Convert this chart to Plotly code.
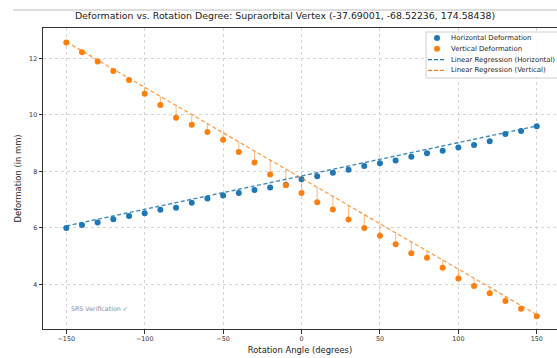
import numpy as np
import plotly.graph_objects as go

# ---- data ----
angles = list(range(-150, 151, 10))
horizontal = [6.00, 6.10, 6.19, 6.31, 6.42, 6.52, 6.64, 6.71, 6.89, 7.04,
              7.15, 7.24, 7.34, 7.43, 7.53, 7.72, 7.83, 7.95, 8.06, 8.19,
              8.29, 8.39, 8.52, 8.64, 8.73, 8.85, 8.94, 9.07, 9.33, 9.43, 9.60]
vertical = [12.57, 12.22, 11.89, 11.56, 11.24, 10.75, 10.35, 9.90, 9.65, 9.40,
            9.12, 8.69, 8.32, 7.89, 7.51, 7.24, 6.91, 6.65, 6.30, 6.00,
            5.72, 5.42, 5.10, 4.94, 4.59, 4.21, 3.94, 3.69, 3.41, 3.14, 2.87]
# regression lines as drawn in the reference (slope per degree, value at 0°)
horizontal_fit = [0.01180, 7.84]
vertical_fit = [-0.03220, 7.76]
x_ticks = [-150, -100, -50, 0, 50, 100, 150]
y_ticks = [4, 6, 8, 10, 12]

title_text = "Deformation vs. Rotation Degree: Supraorbital Vertex (-37.69001, -68.52236, 174.58438)"
legend_labels = ["Horizontal Deformation", "Vertical Deformation",
                 "Linear Regression (Horizontal)", "Linear Regression (Vertical)"]

BLUE = "#1f77b4"
ORANGE = "#ff7f0e"
FONT = "DejaVu Sans"

x = np.array(angles, dtype=float)
h = np.array(horizontal)
v = np.array(vertical)
h_fit = np.polyval(horizontal_fit, x)
v_fit = np.polyval(vertical_fit, x)

fig = go.Figure()

# residual lines for vertical series
rx, ry = [], []
for xi, yi, fi in zip(x, v, v_fit):
    rx += [xi, xi, None]
    ry += [yi, fi, None]
fig.add_trace(go.Scatter(x=rx, y=ry, mode="lines",
                         line=dict(color="rgba(255,127,14,0.5)", width=1.1),
                         hoverinfo="skip", showlegend=False))

fig.add_trace(go.Scatter(x=x, y=h, mode="markers", name=legend_labels[0],
                         marker=dict(color=BLUE, size=6), showlegend=False))
fig.add_trace(go.Scatter(x=x, y=v, mode="markers", name=legend_labels[1],
                         marker=dict(color=ORANGE, size=6), showlegend=False))
fig.add_trace(go.Scatter(x=x, y=h_fit, mode="lines", name=legend_labels[2],
                         line=dict(color=BLUE, width=1.4, dash="4px,2.5px"),
                         opacity=0.85, showlegend=False))
fig.add_trace(go.Scatter(x=x, y=v_fit, mode="lines", name=legend_labels[3],
                         line=dict(color=ORANGE, width=1.2, dash="4px,2.5px"),
                         opacity=0.8, showlegend=False))

# pixel -> paper helpers
L, R, T, B = 43, 557, 28, 329
def pxx(p):
    return (p - L) / (R - L)
def pxy(p):
    return (B - p) / (B - T)

shapes = []
annotations = []

# faint line at the very top of the image
shapes.append(dict(type="line", xref="paper", yref="paper",
                   x0=pxx(13), x1=pxx(560), y0=pxy(10), y1=pxy(10),
                   line=dict(color="#dddddd", width=2), layer="above"))

# custom legend
shapes.append(dict(type="rect", xref="paper", yref="paper",
                   x0=pxx(426), x1=pxx(565), y0=pxy(32), y1=pxy(78),
                   line=dict(color="#d0d0d0", width=1),
                   fillcolor="rgba(255,255,255,0.85)", layer="above"))
rows = [38, 48.8, 59.6, 70.4]
colors = [BLUE, ORANGE, BLUE, ORANGE]
for i, (ry_, col, lab) in enumerate(zip(rows, colors, legend_labels)):
    if i < 2:
        r = 3.0
        shapes.append(dict(type="circle", xref="paper", yref="paper",
                           x0=pxx(437 - r), x1=pxx(437 + r),
                           y0=pxy(ry_ + r), y1=pxy(ry_ - r),
                           fillcolor=col, line=dict(width=0), layer="above"))
    else:
        shapes.append(dict(type="line", xref="paper", yref="paper",
                           x0=pxx(428), x1=pxx(445), y0=pxy(ry_), y1=pxy(ry_),
                           line=dict(color=col, width=1.3, dash="4px,2px"),
                           layer="above"))
    annotations.append(dict(text=lab, xref="paper", yref="paper",
                            x=pxx(449), y=pxy(ry_), xanchor="left", yanchor="middle",
                            showarrow=False, font=dict(family=FONT, size=6.9, color="#262626")))

annotations.append(dict(text="SRS Verification ✓", xref="paper", yref="paper",
                        x=0.05, y=0.05, xanchor="left", yanchor="bottom",
                        showarrow=False, font=dict(family=FONT, size=6.3, color="#8c8c8c")))

axis_common = dict(showline=True, mirror=True, linecolor="#333333", linewidth=1,
                   ticks="outside", ticklen=3.5, tickwidth=0.8, tickcolor="#333333",
                   showgrid=True, gridcolor="#d4d4d4", griddash="dot", gridwidth=0.8,
                   zeroline=False, tickfont=dict(family=FONT, size=6.4, color="#333333"))

fig.update_layout(
    width=557, height=358,
    margin=dict(l=L, r=0, t=T, b=358 - B),
    paper_bgcolor="white", plot_bgcolor="white",
    title=dict(text=title_text, x=285 / 557, xanchor="center", y=1 - 16 / 358, yanchor="middle",
               font=dict(family=FONT, size=9.4, color="#222222")),
    xaxis=dict(range=[-164.85, 162.9], tickvals=x_ticks,
               title=dict(text="Rotation Angle (degrees)", standoff=4,
                          font=dict(family=FONT, size=8.4, color="#222222")),
               **axis_common),
    yaxis=dict(range=[2.42, 13.08], tickvals=y_ticks,
               title=dict(text="Deformation (in mm)", standoff=6,
                          font=dict(family=FONT, size=8.4, color="#222222")),
               **axis_common),
    shapes=shapes, annotations=annotations, showlegend=False,
)

fig.write_html("out.html", config={"displayModeBar": False})

# remove the browser's default page margin so the figure sits at the window's corner
with open("out.html", "r", encoding="utf-8") as f:
    html = f.read()
html = html.replace("<head>", "<head><style>html,body{margin:0;padding:0;overflow:hidden;}</style>", 1)
with open("out.html", "w", encoding="utf-8") as f:
    f.write(html)
